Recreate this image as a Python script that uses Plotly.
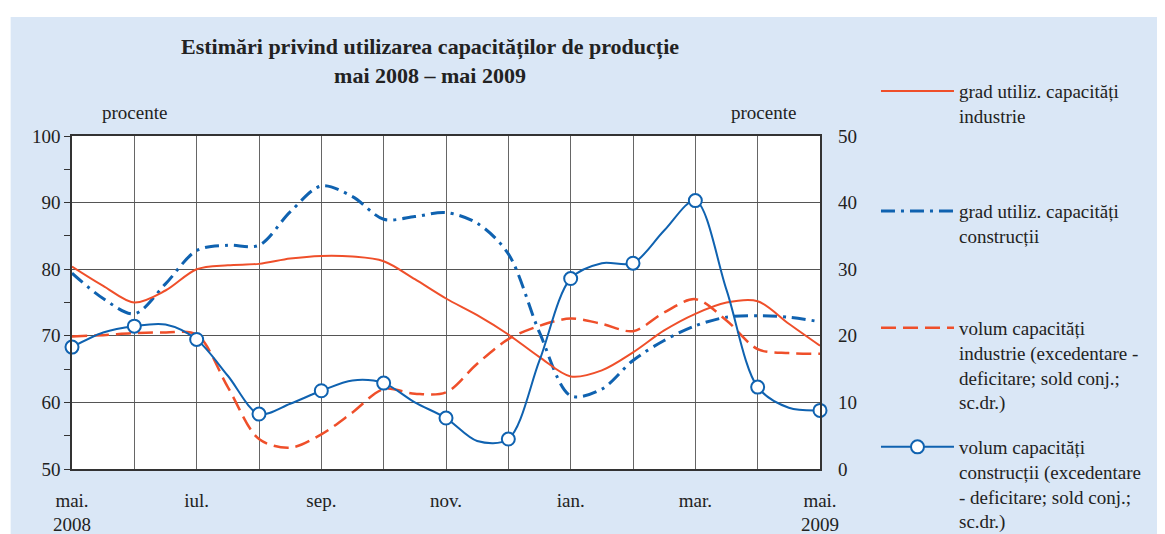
import plotly.graph_objects as go

# luni, pas de jumatate de luna: 0 = mai 2008, 12 = mai 2009
luni = [0, 0.5, 1, 1.5, 2, 2.5, 3, 3.5, 4, 4.5, 5, 5.5, 6,
        6.5, 7, 7.5, 8, 8.5, 9, 9.5, 10, 10.5, 11, 11.5, 12]
pozitii_luni = [0, 1, 2, 3, 4, 5, 6, 7, 8, 9, 10, 11, 12]
etichete_luni = ["mai.<br>2008", "", "iul.", "", "sep.", "", "nov.", "",
                 "ian.", "", "mar.", "", "mai.<br>2009"]

# procente (axa stanga)
grad_industrie = [80.4, 77.5, 75.0, 76.8, 80.0, 80.6, 80.8, 81.6, 82.0, 81.9, 81.2, 78.5, 75.6,
                  73.1, 70.2, 66.8, 63.9, 64.8, 67.5, 70.8, 73.3, 75.0, 75.2, 71.8, 68.5]
grad_constructii = [79.4, 75.6, 73.3, 77.8, 82.8, 83.6, 83.6, 88.6, 92.5, 90.9, 87.5, 87.9, 88.5,
                    86.9, 82.3, 70.5, 61.0, 62.0, 66.3, 69.3, 71.5, 72.8, 73.0, 72.8, 72.1]
# procente (axa dreapta)
volum_industrie = [19.9, 20.1, 20.4, 20.5, 20.2, 12.3, 4.5, 3.2, 5.2, 8.5, 12.0, 11.3, 11.5,
                   15.8, 19.5, 21.5, 22.6, 21.8, 20.7, 23.5, 25.5, 22.3, 18.0, 17.4, 17.3]
volum_constructii = [18.3, 20.5, 21.45, 21.7, 19.45, 14.0, 8.25, 9.8, 11.75, 13.3, 12.9, 10.0, 7.65,
                     4.2, 4.5, 16.3, 28.6, 30.9, 30.9, 35.8, 40.3, 26.9, 12.3, 9.2, 8.8]

ROSU = "#ef4f2a"
ALBASTRU = "#0f62b0"
FONT = "Liberation Serif"

# markerele apar doar la lunile intregi
luni_intregi = [i for i, m in enumerate(luni) if m == int(m)]

fig = go.Figure()

fig.add_trace(go.Scatter(
    x=luni, y=grad_constructii, mode="lines", name="grad utiliz. capacități<br>construcții",
    line=dict(color=ALBASTRU, width=3, dash="14px,6px,3px,6px", shape="spline", smoothing=0.9),
    legend="legend2"))
fig.add_trace(go.Scatter(
    x=luni, y=grad_industrie, mode="lines", name="grad utiliz. capacități<br>industrie",
    line=dict(color=ROSU, width=2, shape="spline", smoothing=0.9),
    legend="legend"))
fig.add_trace(go.Scatter(
    x=luni, y=volum_industrie, yaxis="y2", mode="lines",
    name="volum capacități<br>industrie (excedentare -<br>deficitare; sold conj.;<br>sc.dr.)",
    line=dict(color=ROSU, width=2.5, dash="15px,7px", shape="spline", smoothing=0.9),
    legend="legend3"))
fig.add_trace(go.Scatter(
    x=luni, y=volum_constructii, yaxis="y2", mode="lines+markers",
    name="volum capacități<br>construcții (excedentare<br>- deficitare; sold conj.;<br>sc.dr.)",
    line=dict(color=ALBASTRU, width=2, shape="spline", smoothing=0.9),
    marker=dict(symbol="circle", size=13, color="white", line=dict(color=ALBASTRU, width=2)),
    selectedpoints=luni_intregi,
    selected=dict(marker=dict(opacity=1)), unselected=dict(marker=dict(opacity=0)),
    cliponaxis=False, legend="legend4"))

legenda = dict(x=0.7502, xref="container", yref="container", xanchor="left", yanchor="top",
               bgcolor="rgba(0,0,0,0)", font=dict(family=FONT, size=19, color="#222"),
               itemwidth=73, valign="top", itemsizing="trace")

# pagina are o margine de 8px, deci figura e cu 8px mai mica
fig.update_layout(
    width=1157, height=526,
    margin=dict(l=64, r=345, t=128, b=65, autoexpand=False),
    paper_bgcolor="white", plot_bgcolor="white",
    font=dict(family=FONT, size=19, color="#222"),
    showlegend=True,
    legend=dict(legenda, y=0.878),
    legend2=dict(legenda, y=0.650),
    legend3=dict(legenda, y=0.428),
    legend4=dict(legenda, y=0.2015),
    xaxis=dict(range=[0, 12], tickvals=pozitii_luni, ticktext=etichete_luni,
               showgrid=True, gridcolor="#666", gridwidth=1.2, ticks="",
               ticklabelstandoff=13, showline=True, mirror=True, automargin=False,
               linecolor="#333", linewidth=1.5, zeroline=False),
    yaxis=dict(range=[50, 100], dtick=10, showgrid=True, gridcolor="#555", gridwidth=1.2,
               ticks="outside", ticklen=6, tickcolor="#333", automargin=False,
               minor=dict(dtick=5, ticks="outside", ticklen=6, tickcolor="#333", showgrid=False),
               showline=True, mirror=True, linecolor="#333", linewidth=1.5, zeroline=False),
    yaxis2=dict(range=[0, 50], dtick=10, overlaying="y", side="right", showgrid=False,
                ticks="", ticklabelstandoff=17, zeroline=False, automargin=False),
    shapes=[
        dict(type="rect", xref="paper", yref="paper", x0=-0.082, x1=1.5, y0=-0.3, y1=1.357,
             fillcolor="#dae7f6", line=dict(width=0), layer="below"),
        dict(type="rect", xref="paper", yref="paper", x0=0, x1=1, y0=0, y1=1,
             fillcolor="white", line=dict(width=0), layer="below"),
    ],
    annotations=[
        dict(text="<b>Estimări privind utilizarea capacităților de producție<br>mai 2008 – mai 2009</b>",
             xref="paper", yref="paper", x=0.479, y=1.225, xanchor="center", yanchor="middle",
             showarrow=False, font=dict(family=FONT, size=22, color="#222")),
        dict(text="procente", xref="paper", yref="paper", x=0.084, y=1.072,
             xanchor="center", yanchor="middle", showarrow=False),
        dict(text="procente", xref="paper", yref="paper", x=0.925, y=1.072,
             xanchor="center", yanchor="middle", showarrow=False),
    ],
)

fig.write_html("out.html")
